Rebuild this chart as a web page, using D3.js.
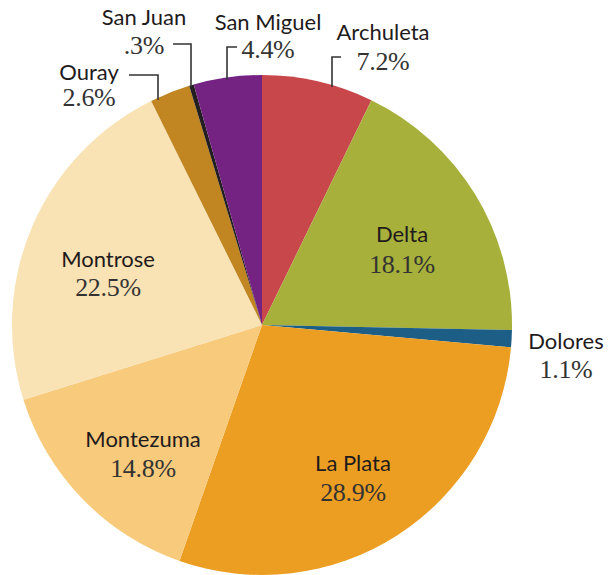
<!DOCTYPE html>
<html lang="en">
    <head>
        <meta charset="utf-8">
        <title>Pie</title>
        <script src="https://d3js.org/d3.v7.min.js"></script>
        <style>
            body { margin: 0; background: #fff; }
            .nome { font-family: Lato, 'Open Sans', sans-serif; font-size: 22px; fill: #1f1b1c; text-anchor: middle; }
            .pct { font-family: 'Liberation Serif', serif; font-size: 26px; fill: #333; text-anchor: middle; letter-spacing: -0.3px; }
            .guia { fill: none; stroke: #333; stroke-width: 1.6; }
        </style>
    </head>
    <body>
        <svg id="grafico" width="609" height="575"></svg>
        <script>
            const condados = ['Archuleta', 'Delta', 'Dolores', 'La Plata', 'Montezuma', 'Montrose', 'Ouray', 'San Juan', 'San Miguel'];
            const valores = [7.2, 18.1, 1.1, 28.9, 14.8, 22.5, 2.6, 0.3, 4.4];
            const rotulos = ['7.2%', '18.1%', '1.1%', '28.9%', '14.8%', '22.5%', '2.6%', '.3%', '4.4%'];
            const cores = ['#c8474a', '#a6b03a', '#1d5e86', '#ec9e22', '#f7ca7c', '#f9e2b3', '#c18622', '#231f20', '#742383'];

            const cx = 262, cy = 325, raio = 250;
            // label placement: [x, nameBaseline, pctBaseline]
            const posicoes = {
                'Archuleta': [383, 40, 70], 'Delta': [402, 242, 273], 'Dolores': [566, 349, 378],
                'La Plata': [353, 471, 501], 'Montezuma': [143, 447, 477], 'Montrose': [108, 267, 296],
                'Ouray': [89, 80, 106], 'San Juan': [144, 25, 54], 'San Miguel': [268, 30, 58]
            };
            // leader lines: [xStart, y, xElbow]
            const guias = {
                'Archuleta': [341, 57, 332], 'San Miguel': [237, 47, 227],
                'San Juan': [173, 44, 191], 'Ouray': [129, 75, 158]
            };

            const svg = d3.select('#grafico');
            const g = svg.append('g').attr('transform', `translate(${cx},${cy})`);
            const pie = d3.pie().sort(null).value(d => d);
            const arco = d3.arc().innerRadius(0).outerRadius(raio);
            const fatias = pie(valores);

            g.selectAll('.fatia')
                .data(fatias)
                .enter()
                .append('path')
                .classed('fatia', true)
                .attr('d', arco)
                .attr('fill', (d, i) => cores[i]);

            Object.keys(guias).forEach(nome => {
                const [x0, y, xe] = guias[nome];
                const dx = xe - cx;
                const yFim = cy - Math.sqrt(raio * raio - dx * dx) + 2;
                svg.append('path')
                    .classed('guia', true)
                    .attr('d', d3.line()([[x0, y], [xe, y], [xe, yFim]]));
            });

            condados.forEach((nome, i) => {
                const [x, y1, y2] = posicoes[nome];
                svg.append('text').classed('nome', true).attr('x', x).attr('y', y1).text(nome);
                svg.append('text').classed('pct', true).attr('x', x).attr('y', y2).text(rotulos[i]);
            });
        </script>
    </body>
</html>
